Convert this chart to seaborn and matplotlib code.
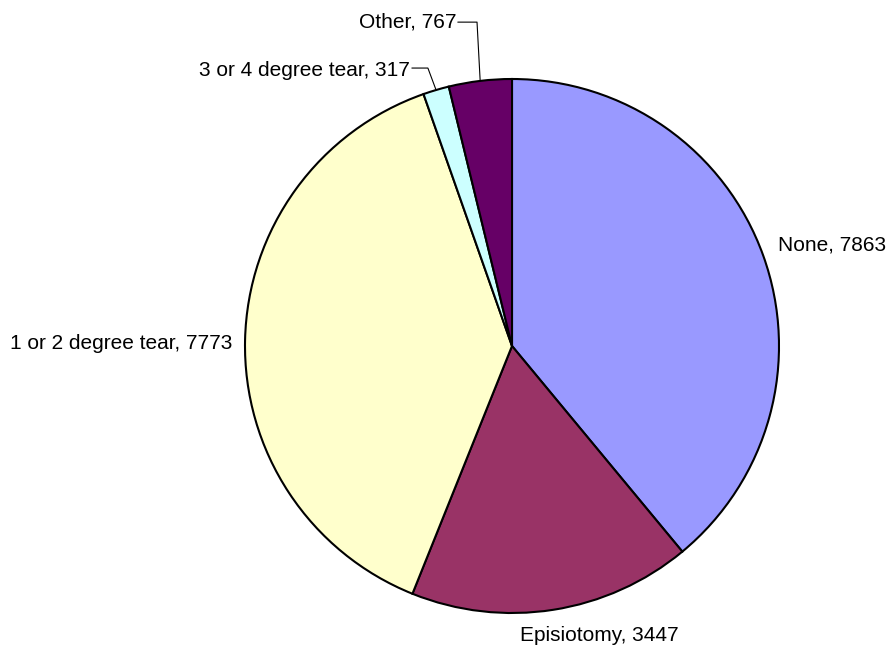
import numpy as np
import matplotlib
matplotlib.use("Agg")
import matplotlib.pyplot as plt
import seaborn as sns

categories = ["None", "Episiotomy", "1 or 2 degree tear", "3 or 4 degree tear", "Other"]
values = [7863, 3447, 7773, 317, 767]
colors = ["#9999FF", "#993366", "#FFFFCC", "#CCFFFF", "#660066"]

sns.set_theme(style="white")
plt.rcParams['font.family'] = ['Liberation Sans', 'DejaVu Sans']
plt.rcParams['text.color'] = 'black'

fig = plt.figure(figsize=(8.87, 6.47), dpi=100)
ax = fig.add_axes([245/887, 34/647, 534/887, 534/647])
ax.pie(values, colors=colors, startangle=90, counterclock=False,
       wedgeprops=dict(edgecolor="black", linewidth=1.5))
ax.set_xlim(-1, 1)
ax.set_ylim(-1, 1)
ax.set_aspect("auto")
ax.axis("off")

total = sum(values)
cum = np.cumsum([0] + values)
mids = [(cum[i] + cum[i + 1]) / 2 / total * 2 * np.pi for i in range(len(values))]
pts = [(np.sin(a), np.cos(a)) for a in mids]

fs = 15
ax.text(0.996, 0.378, f"{categories[0]}, {values[0]}", ha="left", va="center", fontsize=fs, clip_on=False)
ax.text(0.326, -1.086, f"{categories[1]}, {values[1]}", ha="center", va="center", fontsize=fs, clip_on=False)
ax.text(-1.049, 0.011, f"{categories[2]}, {values[2]}", ha="right", va="center", fontsize=fs, clip_on=False)
ax.text(-0.384, 1.030, f"{categories[3]}, {values[3]}", ha="right", va="center", fontsize=fs, clip_on=False)
ax.text(-0.206, 1.213, f"{categories[4]}, {values[4]}", ha="right", va="center", fontsize=fs, clip_on=False)

# leader lines: (start x, bend x, y) relative to wedge mid point
for i, x0, x1, ty in [(3, -0.375, -0.315, 1.041), (4, -0.203, -0.131, 1.213)]:
    px, py = pts[i]
    ax.plot([x0, x1, px], [ty, ty, py], color="black", lw=0.8, clip_on=False)

fig.savefig("out.png", dpi=100, facecolor="white")
